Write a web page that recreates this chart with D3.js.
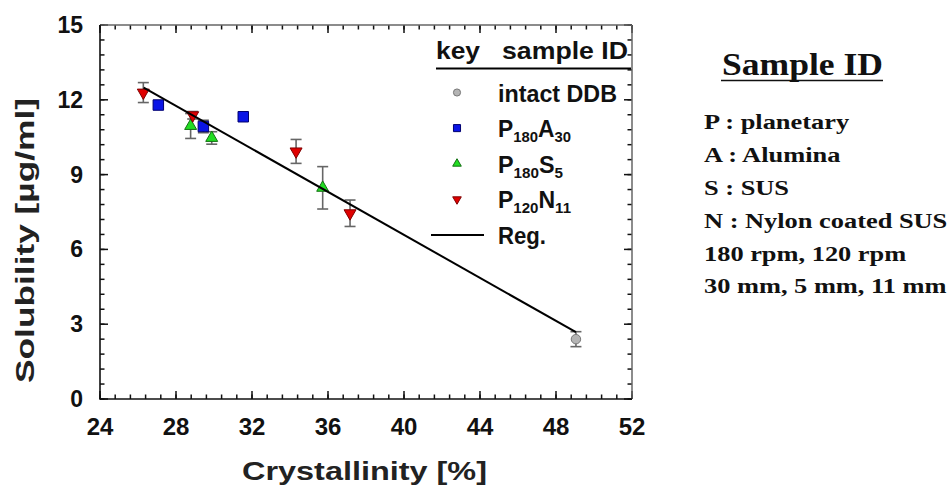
<!DOCTYPE html>
<html>
<head>
<meta charset="utf-8">
<title>Solubility vs Crystallinity</title>
<script src="https://d3js.org/d3.v7.min.js"></script>
<style>
  body { margin: 0; background: #fff; }
</style>
</head>
<body>
<script>
// intact DDB
var intactX = [49.05], intactY = [2.40], intactErr = [0.30];
// P180A30 (alumina)
var aluX = [27.07, 29.44, 31.54], aluY = [11.79, 10.93, 11.32], aluErr = [0, 0.25, 0];
// P180S5 (SUS)
var susX = [28.77, 29.88, 35.72], susY = [10.95, 10.47, 8.47], susErr = [0.50, 0.25, 0.85];
// P120N11 (nylon coated SUS)
var nylX = [26.28, 28.88, 34.32, 37.16], nylY = [12.29, 11.38, 9.93, 7.45], nylErr = [0.40, 0.15, 0.48, 0.53];
// regression line end points
var regX = [26.3, 49.05], regY = [12.49, 2.68];

var xTicks = [24, 28, 32, 36, 40, 44, 48, 52];
var yTicks = [0, 3, 6, 9, 12, 15];
var sideNotes = ["P : planetary", "A : Alumina", "S : SUS", "N : Nylon coated SUS",
                 "180 rpm, 120 rpm", "30 mm, 5 mm, 11 mm"];

var W = 951, H = 492;
var svg = d3.select("body").append("svg").attr("width", W).attr("height", H)
  .style("font-family", "'Liberation Sans', Arial, sans-serif");

var x = d3.scaleLinear().domain([24, 52]).range([100, 632]);
var y = d3.scaleLinear().domain([0, 15]).range([399, 25]);

var xMinor = d3.range(0, 36).map(function(i) { return 24 + i * 0.8; });
var yMinor = d3.range(0, 26).map(function(i) { return i * 0.6; });

// ticks, all pointing inward, on all four sides
var tk = svg.append("g").attr("stroke", "#111").attr("stroke-width", 1.5);
function xTickMarks(vals, len) {
  tk.selectAll(null).data(vals).enter().append("line")
    .attr("x1", function(d) { return x(d); }).attr("x2", function(d) { return x(d); })
    .attr("y1", y(0)).attr("y2", y(0) - len);
  tk.selectAll(null).data(vals).enter().append("line")
    .attr("x1", function(d) { return x(d); }).attr("x2", function(d) { return x(d); })
    .attr("y1", y(15)).attr("y2", y(15) + len);
}
function yTickMarks(vals, len) {
  tk.selectAll(null).data(vals).enter().append("line")
    .attr("y1", function(d) { return y(d); }).attr("y2", function(d) { return y(d); })
    .attr("x1", x(24)).attr("x2", x(24) + len);
  tk.selectAll(null).data(vals).enter().append("line")
    .attr("y1", function(d) { return y(d); }).attr("y2", function(d) { return y(d); })
    .attr("x1", x(52)).attr("x2", x(52) - len);
}
xTickMarks(xMinor, 4.5); xTickMarks(xTicks, 8);
yTickMarks(yMinor, 4.5); yTickMarks(yTicks, 8);

// tick labels
svg.append("g").selectAll("text").data(xTicks).enter().append("text")
  .attr("x", function(d) { return x(d); }).attr("y", 435)
  .attr("text-anchor", "middle").attr("font-size", 24).attr("font-weight", "bold").attr("fill", "#111")
  .text(function(d) { return d; });
svg.append("g").selectAll("text").data(yTicks).enter().append("text")
  .attr("x", 83).attr("y", function(d) { return y(d) + 8; })
  .attr("text-anchor", "end").attr("font-size", 23).attr("font-weight", "bold").attr("fill", "#111")
  .text(function(d) { return d; });

// frame
svg.append("line").attr("x1", 100).attr("x2", 632).attr("y1", 25).attr("y2", 25).attr("stroke", "#666").attr("stroke-width", 1.5);
svg.append("line").attr("x1", 632).attr("x2", 632).attr("y1", 25).attr("y2", 399).attr("stroke", "#666").attr("stroke-width", 1.5);
svg.append("line").attr("x1", 100).attr("x2", 100).attr("y1", 25).attr("y2", 399.5).attr("stroke", "#111").attr("stroke-width", 1.6);
svg.append("line").attr("x1", 99.5).attr("x2", 632).attr("y1", 399).attr("y2", 399).attr("stroke", "#111").attr("stroke-width", 1.6);

// axis titles
svg.append("text").attr("x", 242).attr("y", 480)
  .attr("textLength", 245).attr("lengthAdjust", "spacingAndGlyphs")
  .attr("font-size", 25).attr("font-weight", "bold").attr("fill", "#222")
  .text("Crystallinity [%]");
svg.append("text").attr("transform", "translate(34,383) rotate(-90)")
  .attr("textLength", 285).attr("lengthAdjust", "spacingAndGlyphs")
  .attr("font-size", 26).attr("font-weight", "bold").attr("fill", "#222")
  .text("Solubility [\u00b5g/ml]");

var series = [
  { xs: intactX, ys: intactY, es: intactErr, sym: d3.symbolCircle, size: 70, rot: 0, fill: "#b4b4b4", stroke: "#777" },
  { xs: aluX, ys: aluY, es: aluErr, sym: d3.symbolSquare, size: 110, rot: 0, fill: "#0a14e6", stroke: "#000070" },
  { xs: susX, ys: susY, es: susErr, sym: d3.symbolTriangle, size: 62, rot: 0, fill: "#22dd22", stroke: "#127012" },
  { xs: nylX, ys: nylY, es: nylErr, sym: d3.symbolTriangle, size: 62, rot: 180, fill: "#e00000", stroke: "#800000" }
];

// error bars
series.forEach(function(s) {
  var pts = s.xs.map(function(v, i) { return { x: v, y: s.ys[i], e: s.es[i] }; })
    .filter(function(d) { return d.e > 0; });
  var g = svg.append("g").attr("stroke", "#666").attr("stroke-width", 1.6);
  g.selectAll(null).data(pts).enter().append("line")
    .attr("x1", function(d) { return x(d.x); }).attr("x2", function(d) { return x(d.x); })
    .attr("y1", function(d) { return y(d.y + d.e); }).attr("y2", function(d) { return y(d.y - d.e); });
  [1, -1].forEach(function(sg) {
    g.selectAll(null).data(pts).enter().append("line")
      .attr("x1", function(d) { return x(d.x) - 5.5; }).attr("x2", function(d) { return x(d.x) + 5.5; })
      .attr("y1", function(d) { return y(d.y + sg * d.e); }).attr("y2", function(d) { return y(d.y + sg * d.e); });
  });
});

// markers
series.forEach(function(s) {
  var pts = s.xs.map(function(v, i) { return { x: v, y: s.ys[i] }; });
  svg.append("g").selectAll("path").data(pts).enter().append("path")
    .attr("d", d3.symbol().type(s.sym).size(s.size))
    .attr("transform", function(d) { return "translate(" + x(d.x) + "," + y(d.y) + ") rotate(" + s.rot + ")"; })
    .attr("fill", s.fill).attr("stroke", s.stroke).attr("stroke-width", 1);
});

// regression line
var regLine = d3.line().x(function(d) { return x(d[0]); }).y(function(d) { return y(d[1]); });
svg.append("path").attr("d", regLine(d3.zip(regX, regY)))
  .attr("fill", "none").attr("stroke", "#000").attr("stroke-width", 2);

// legend
var leg = svg.append("g").attr("fill", "#111");
leg.append("text").attr("x", 436).attr("y", 59).attr("font-size", 24).attr("font-weight", "bold")
  .attr("textLength", 44).attr("lengthAdjust", "spacingAndGlyphs").text("key");
leg.append("text").attr("x", 502).attr("y", 59).attr("font-size", 24).attr("font-weight", "bold")
  .attr("textLength", 126).attr("lengthAdjust", "spacingAndGlyphs").text("sample ID");
leg.append("line").attr("x1", 436).attr("x2", 631).attr("y1", 68.5).attr("y2", 68.5)
  .attr("stroke", "#000").attr("stroke-width", 2);

var legRows = [
  { parts: [["intact DDB", 0]], w: 119, sym: d3.symbolCircle, size: 40, rot: 0, s: series[0] },
  { parts: [["P", 0], ["180", 1], ["A", 0], ["30", 1]], w: 73, sym: d3.symbolSquare, size: 50, rot: 0, s: series[1] },
  { parts: [["P", 0], ["180", 1], ["S", 0], ["5", 1]], w: 65, sym: d3.symbolTriangle, size: 32, rot: 0, s: series[2] },
  { parts: [["P", 0], ["120", 1], ["N", 0], ["11", 1]], w: 73, sym: d3.symbolTriangle, size: 32, rot: 180, s: series[3] },
  { parts: [["Reg.", 0]], w: 48, sym: null }
];
legRows.forEach(function(r, i) {
  var cy = 92.5 + i * 35.6;
  if (r.sym) {
    leg.append("path").attr("d", d3.symbol().type(r.sym).size(r.size)())
      .attr("transform", "translate(457," + cy + ") rotate(" + r.rot + ")")
      .attr("fill", r.s.fill).attr("stroke", r.s.stroke).attr("stroke-width", 1);
  } else {
    leg.append("line").attr("x1", 431).attr("x2", 484).attr("y1", cy).attr("y2", cy)
      .attr("stroke", "#000").attr("stroke-width", 2);
  }
  var t = leg.append("text").attr("x", 498).attr("y", cy + 9).attr("font-weight", "bold")
    .attr("textLength", r.w).attr("lengthAdjust", "spacingAndGlyphs");
  r.parts.forEach(function(p, j) {
    t.append("tspan").attr("font-size", p[1] ? 15 : 23)
      .attr("dy", p[1] ? 5 : (j > 0 ? -5 : 0))
      .text(p[0]);
  });
});

// sample ID notes
var side = svg.append("g").style("font-family", "'Liberation Serif', 'Times New Roman', serif")
  .attr("font-weight", "bold").attr("fill", "#111");
side.append("text").attr("x", 722).attr("y", 75).attr("font-size", 31)
  .attr("textLength", 161).attr("lengthAdjust", "spacingAndGlyphs").text("Sample ID");
side.append("line").attr("x1", 721).attr("x2", 883).attr("y1", 80.5).attr("y2", 80.5)
  .attr("stroke", "#111").attr("stroke-width", 1.6);
var notes = side.append("g").attr("transform", "translate(704,0) scale(1.2,1)");
notes.selectAll("text").data(sideNotes).enter().append("text")
  .attr("x", 0).attr("y", function(d, i) { return 129.5 + i * 32.8; })
  .attr("font-size", 22).text(function(d) { return d; });
</script>
</body>
</html>
